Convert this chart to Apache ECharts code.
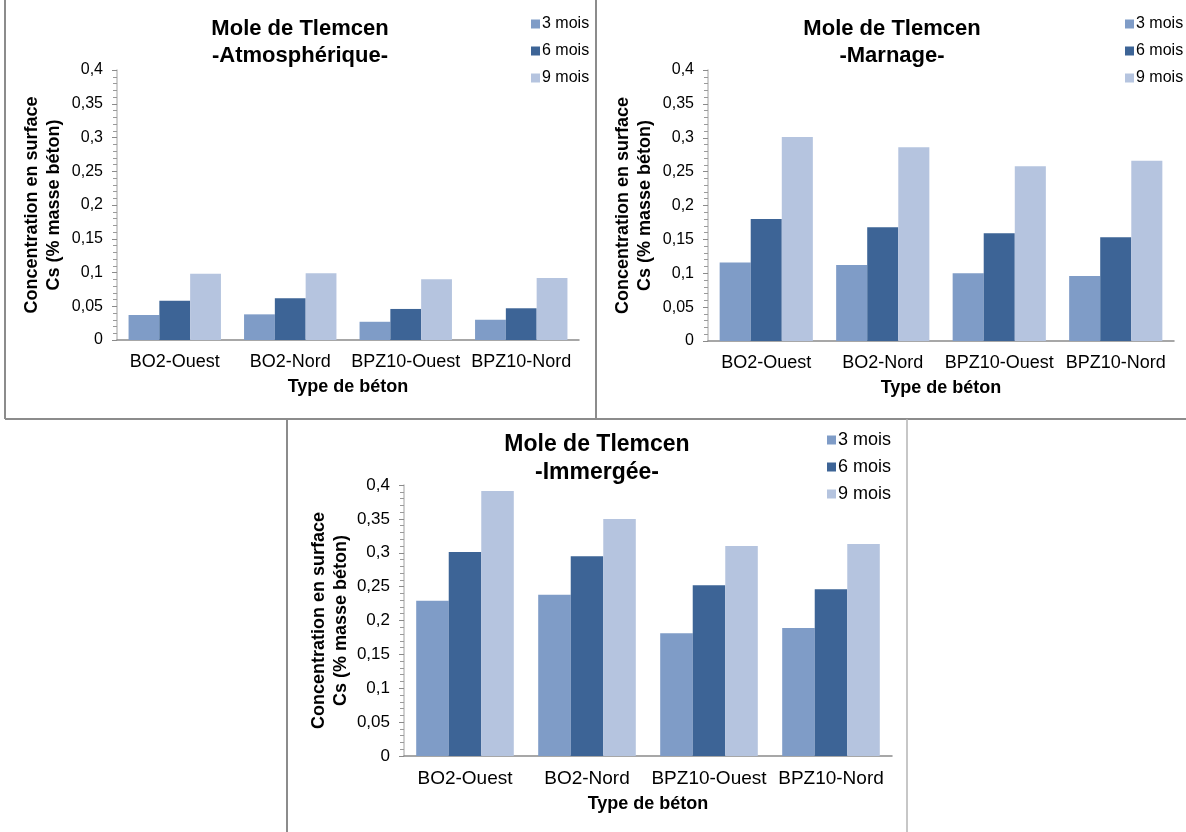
<!DOCTYPE html>
<html>
<head>
<meta charset="utf-8">
<script src="https://cdn.jsdelivr.net/npm/echarts@6/dist/echarts.min.js"></script>
<style>
  html, body { margin: 0; padding: 0; background: #fff; }
  #chart { width: 1186px; height: 832px; }
</style>
</head>
<body>
<div id="chart"></div>
<script>
// Concrete types (categories)
const categories = ['BO2-Ouest', 'BO2-Nord', 'BPZ10-Ouest', 'BPZ10-Nord'];
const seriesNames = ['3 mois', '6 mois', '9 mois'];

// Surface concentration Cs (% masse béton) — zone atmosphérique
const atmo3 = [0.037, 0.038, 0.027, 0.030];
const atmo6 = [0.058, 0.062, 0.046, 0.047];
const atmo9 = [0.098, 0.099, 0.090, 0.092];

// Zone de marnage
const marn3 = [0.116, 0.112, 0.100, 0.096];
const marn6 = [0.180, 0.168, 0.159, 0.153];
const marn9 = [0.301, 0.286, 0.258, 0.266];

// Zone immergée
const imm3 = [0.229, 0.238, 0.181, 0.189];
const imm6 = [0.301, 0.295, 0.252, 0.246];
const imm9 = [0.391, 0.350, 0.310, 0.313];

const panelTitles = [
  'Mole de Tlemcen\n-Atmosphérique-',
  'Mole de Tlemcen\n-Marnage-',
  'Mole de Tlemcen\n-Immergée-'
];
const xName = 'Type de béton';
const yName = 'Concentration en surface\nCs (% masse béton)';

const colors = ['#7F9CC7', '#3D6496', '#B5C4DF'];
const FONT = 'Liberation Sans, Arial, sans-serif';

// panel geometry: grid box, legend anchor, title position, font sizes
const panels = [
  { grid: { left: 117, top: 70, width: 462, height: 270 }, legend: { left: 531, top: 16 },
    titleX: 300, titleY: 16, fs: { title: 22, cat: 18, tick: 16, legend: 16, xGap: 38 },
    data: [atmo3, atmo6, atmo9] },
  { grid: { left: 708, top: 70, width: 466, height: 271 }, legend: { left: 1125, top: 16 },
    titleX: 892, titleY: 16, fs: { title: 22, cat: 18, tick: 16, legend: 16, xGap: 38 },
    data: [marn3, marn6, marn9] },
  { grid: { left: 404, top: 485, width: 488, height: 271 }, legend: { left: 827, top: 431 },
    titleX: 597, titleY: 431, fs: { title: 23, cat: 19, tick: 17, legend: 18, xGap: 39 },
    data: [imm3, imm6, imm9] }
];

const fmt = v => String(+v.toFixed(2)).replace('.', ',');

const grids = [], xAxes = [], yAxes = [], legends = [], series = [], graphics = [];

panels.forEach((p, i) => {
  grids.push(Object.assign({ containLabel: false }, p.grid));
  xAxes.push({
    type: 'category', gridIndex: i, data: categories,
    axisLine: { lineStyle: { color: '#8a8a8a', width: 1.5 } },
    axisTick: { show: false },
    axisLabel: { color: '#000', fontSize: p.fs.cat, fontFamily: FONT, margin: 13, interval: 0 },
    name: xName, nameLocation: 'middle', nameGap: p.fs.xGap,
    nameTextStyle: { color: '#000', fontSize: 18, fontWeight: 'bold', fontFamily: FONT }
  });
  yAxes.push({
    type: 'value', gridIndex: i, min: 0, max: 0.4, interval: 0.05,
    axisLine: { show: true, lineStyle: { color: '#c0c0c0', width: 1.5 } },
    axisTick: { show: true, length: 5, lineStyle: { color: '#8a8a8a' } },
    minorTick: { show: true, splitNumber: 5, length: 4, lineStyle: { color: '#9a9a9a' } },
    splitLine: { show: false },
    axisLabel: { color: '#000', fontSize: p.fs.tick, fontFamily: FONT, margin: 14, formatter: fmt },
    name: yName, nameLocation: 'middle', nameGap: 52, nameRotate: 90,
    nameTextStyle: { color: '#000', fontSize: 18, fontWeight: 'bold', fontFamily: FONT, lineHeight: 22 }
  });
  legends.push({
    orient: 'vertical', left: p.legend.left, top: p.legend.top,
    data: seriesNames, icon: 'rect', itemWidth: 9, itemHeight: 9,
    itemGap: 27 - p.fs.legend, padding: 0, selectedMode: false,
    textStyle: { color: '#000', fontSize: p.fs.legend, fontFamily: FONT, padding: [0, 0, 0, -3] }
  });
  p.data.forEach((vals, k) => {
    series.push({
      type: 'bar', name: seriesNames[k], xAxisIndex: i, yAxisIndex: i, data: vals,
      barGap: '0%', barCategoryGap: '20%',
      itemStyle: { color: colors[k] }, silent: true
    });
  });
  graphics.push({
    type: 'text', x: p.titleX, y: p.titleY,
    style: { text: panelTitles[i], align: 'center', verticalAlign: 'top',
      font: 'bold ' + p.fs.title + 'px ' + FONT, lineHeight: p.fs.title + 4.5, fill: '#000' }
  });
});

// panel frames
const frame = (pts, color, w) => ({ type: 'polyline', shape: { points: pts },
  style: { stroke: color, lineWidth: w, fill: null }, silent: true });
graphics.push(
  frame([[5, 0], [5, 419]], '#8c8c8c', 2),
  frame([[596, 0], [596, 419]], '#8c8c8c', 2),
  frame([[5, 419], [1186, 419]], '#8c8c8c', 2),
  frame([[287, 419], [287, 832]], '#8c8c8c', 2),
  frame([[907, 419], [907, 832]], '#b4b4b4', 1.5)
);

const chart = echarts.init(document.getElementById('chart'), null, { renderer: 'canvas' });
chart.setOption({
  animation: false,
  backgroundColor: '#fff',
  textStyle: { fontFamily: FONT },
  grid: grids, xAxis: xAxes, yAxis: yAxes, legend: legends,
  series: series, graphic: graphics
});
</script>
</body>
</html>
